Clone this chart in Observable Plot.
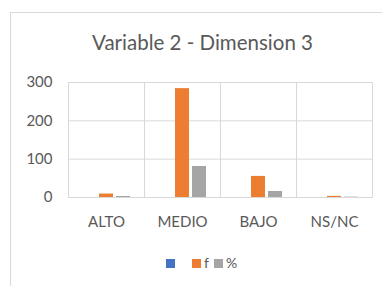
<!DOCTYPE html>
<html>
<head>
<meta charset="utf-8">
<script src="https://cdn.jsdelivr.net/npm/d3@7"></script>
<script src="https://cdn.jsdelivr.net/npm/@observablehq/plot@0.6"></script>
<style>
  html, body { margin: 0; padding: 0; background: #fff; }
  #wrap { position: relative; width: 382px; height: 286px; overflow: hidden; font-family: Lato, "Open Sans", sans-serif; color: #595959; }
  #border { position: absolute; left: 10px; top: 12px; width: 500px; height: 400px; border-left: 1px solid #d9d9d9; border-top: 1px solid #d9d9d9; }
  #title { position: absolute; left: 0; width: 405px; top: 30px; text-align: center; font-size: 20.5px; line-height: 24px; white-space: nowrap; }
  #chart { position: absolute; left: 0; top: 0; }
  #legend { position: absolute; left: 166px; top: 255px; display: flex; align-items: center; font-size: 14px; line-height: 16px; }
  .item { display: flex; align-items: center; }
  .sw { width: 9px; height: 9px; margin-right: 3px; }
  .lab { margin-right: 5px; }
  .lab:empty { display: inline-block; width: 14px; margin-right: 0; }
</style>
</head>
<body>
<div id="wrap">
  <div id="border"></div>
  <div id="title">Variable 2 - Dimension 3</div>
  <div id="chart"></div>
  <div id="legend"></div>
</div>
<script>
const categories = ["ALTO", "MEDIO", "BAJO", "NS/NC"];
const seriesNames = ["", "f", "%"];
const seriesColors = ["#4472C4", "#ED7D31", "#A5A5A5"];
const blankValues = [0, 0, 0, 0];
const fValues = [9, 284, 55, 3];
const pctValues = [2.6, 80.9, 15.7, 0.9];
const yTicks = [0, 100, 200, 300];

const seriesValues = [blankValues, fValues, pctValues];
const rows = [];
categories.forEach((c, i) => {
  seriesNames.forEach((s, j) => {
    rows.push({category: c, series: s, value: seriesValues[j][i]});
  });
});

const chart = Plot.plot({
  width: 382,
  height: 286,
  marginLeft: 68,
  marginRight: 10,
  marginTop: 82,
  marginBottom: 89,
  style: {fontFamily: "Lato, 'Open Sans', sans-serif", fontSize: "15px", color: "#595959", background: "transparent", overflow: "visible"},
  facet: {data: rows, x: "category"},
  fx: {domain: categories, padding: 0, axis: "bottom", tickSize: 0, tickPadding: 19, label: null},
  x: {domain: seriesNames, paddingInner: 0.2, paddingOuter: 0.835, axis: null},
  y: {domain: [0, 300], ticks: yTicks, tickSize: 0, tickPadding: 16, label: null},
  color: {domain: seriesNames, range: seriesColors},
  marks: [
    Plot.ruleY(yTicks, {stroke: "#d9d9d9", strokeWidth: 1}),
    Plot.frame({stroke: "#d9d9d9"}),
    Plot.barY(rows, {x: "series", y: "value", fill: "series"})
  ]
});
document.getElementById("chart").appendChild(chart);

const legend = document.getElementById("legend");
seriesNames.forEach((s, j) => {
  const item = document.createElement("div");
  item.className = "item";
  const sw = document.createElement("div");
  sw.className = "sw";
  sw.style.background = seriesColors[j];
  item.appendChild(sw);
  const lab = document.createElement("span");
  lab.className = "lab";
  lab.textContent = s;
  item.appendChild(lab);
  legend.appendChild(item);
});
</script>
</body>
</html>
